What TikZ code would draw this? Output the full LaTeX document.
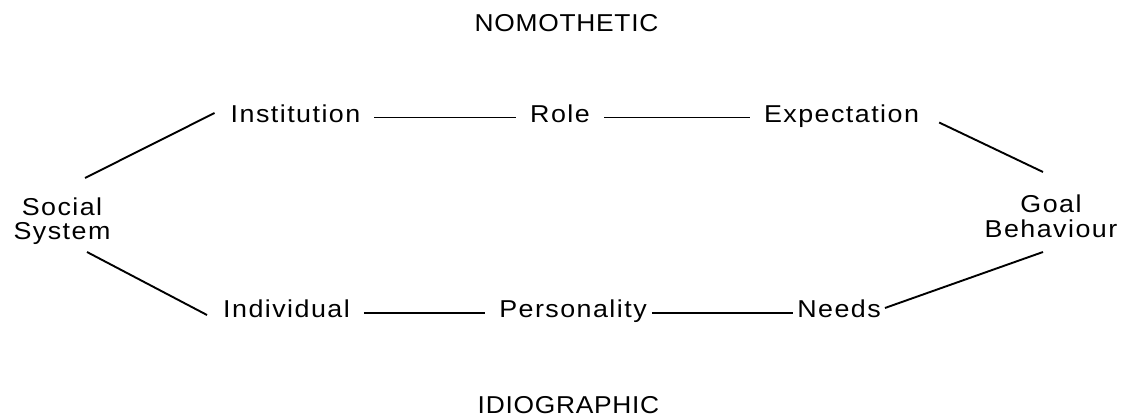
\documentclass[tikz,border=0pt]{standalone}
\usepackage{fontspec}
\setmainfont{Liberation Sans}[FakeStretch=1.1,LetterSpace=6]
\newfontfamily\headfont{Liberation Sans}[FakeStretch=1.08,LetterSpace=3]
\begin{document}
\begin{tikzpicture}[x=1pt,y=1pt,
  lbl/.style={inner sep=0pt, font=\fontsize{24.4}{24.5}\selectfont},
  head/.style={inner sep=0pt, font=\headfont\fontsize{24.4}{24.5}\selectfont},
  conn/.style={line width=1.9pt},
  hconn/.style={conn, shorten <=14pt, shorten >=14pt}]
\path[use as bounding box] (0,0) rectangle (1125,418);
% headings
\node[head, anchor=base] (nomo) at (566.5,386) {NOMOTHETIC};
\node[head, anchor=base] (idio) at (568.5,5) {IDIOGRAPHIC};
% ends
\node[lbl, align=center] (ss) at (62,197) {Social\\System};
\node[lbl, align=center] (goal) at (1051,201.5) {Goal\\Behaviour};
% top row
\node[lbl, anchor=base] (inst) at (295.5,295.5) {Institution};
\node[lbl, anchor=base] (role) at (560,295.5) {Role};
\node[lbl, anchor=base] (expe) at (841.5,295.5) {Expectation};
% bottom row
\node[lbl, anchor=base] (indiv) at (286.5,100) {Individual};
\node[lbl, anchor=base] (pers) at (573,100) {Personality};
\node[lbl, anchor=base] (needs) at (839,100) {Needs};
% horizontal connectors
\draw[hconn] ([yshift=5pt]inst.base east) -- ([yshift=5pt]role.base west);
\draw[hconn] ([yshift=5pt]role.base east) -- ([yshift=5pt]expe.base west);
\draw[hconn] ([yshift=5pt]indiv.base east) -- ([yshift=5pt]pers.base west);
\draw[hconn, shorten <=5pt, shorten >=4pt] ([yshift=5pt]pers.base east) -- ([yshift=5pt]needs.base west);
% diagonal connectors
\draw[conn] ([shift={(23,43)}]ss.center) -- ([shift={(-16,9.5)}]inst.base west);
\draw[conn] ([shift={(25,-31)}]ss.center) -- ([shift={(-16,3)}]indiv.base west);
\draw[conn] ([shift={(20,0)}]expe.base east) -- ([shift={(-8,44.5)}]goal.center);
\draw[conn] ([shift={(4,10)}]needs.base east) -- ([shift={(-8,-35.5)}]goal.center);
\end{tikzpicture}
\end{document}
